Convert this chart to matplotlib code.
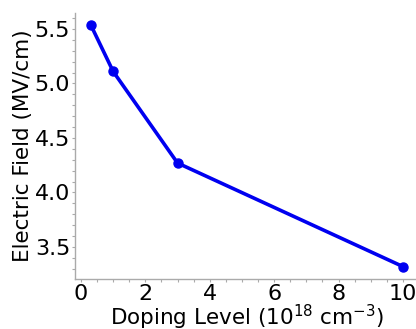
import matplotlib

matplotlib.use("Agg")
import matplotlib.pyplot as plt

# Breakdown field vs doping level
doping = [0.3, 1, 3, 10]
field = [5.54, 5.11, 4.27, 3.32]

W, H = 416, 329
fig = plt.figure(figsize=(W / 100, H / 100), dpi=100)
ax = fig.add_axes([75 / W, (H - 278.7) / H, 343.6 / W, (278.7 - 12.5) / H])

ax.plot(doping, field, "o-", color="#0000f0", lw=2.6, ms=6.5)

for side in ["top", "right"]:
    ax.spines[side].set_visible(False)
for side in ["left", "bottom"]:
    ax.spines[side].set_color("#aaaaaa")
    ax.spines[side].set_linewidth(1)

ax.set_xticks([0, 2, 4, 6, 8, 10])
ax.set_yticks([3.5, 4.0, 4.5, 5.0, 5.5])
ax.minorticks_on()
ax.tick_params(which="both", length=2, width=0.8, color="#aaaaaa",
               labelsize=16, pad=1.5)

ax.set_xlabel(r"Doping Level ($10^{18}$ cm$^{-3}$)", fontsize=15.5,
              labelpad=-0.8)
ax.set_ylabel("Electric Field (MV/cm)", fontsize=15.5, labelpad=1)

fig.savefig("out.png", dpi=100)
